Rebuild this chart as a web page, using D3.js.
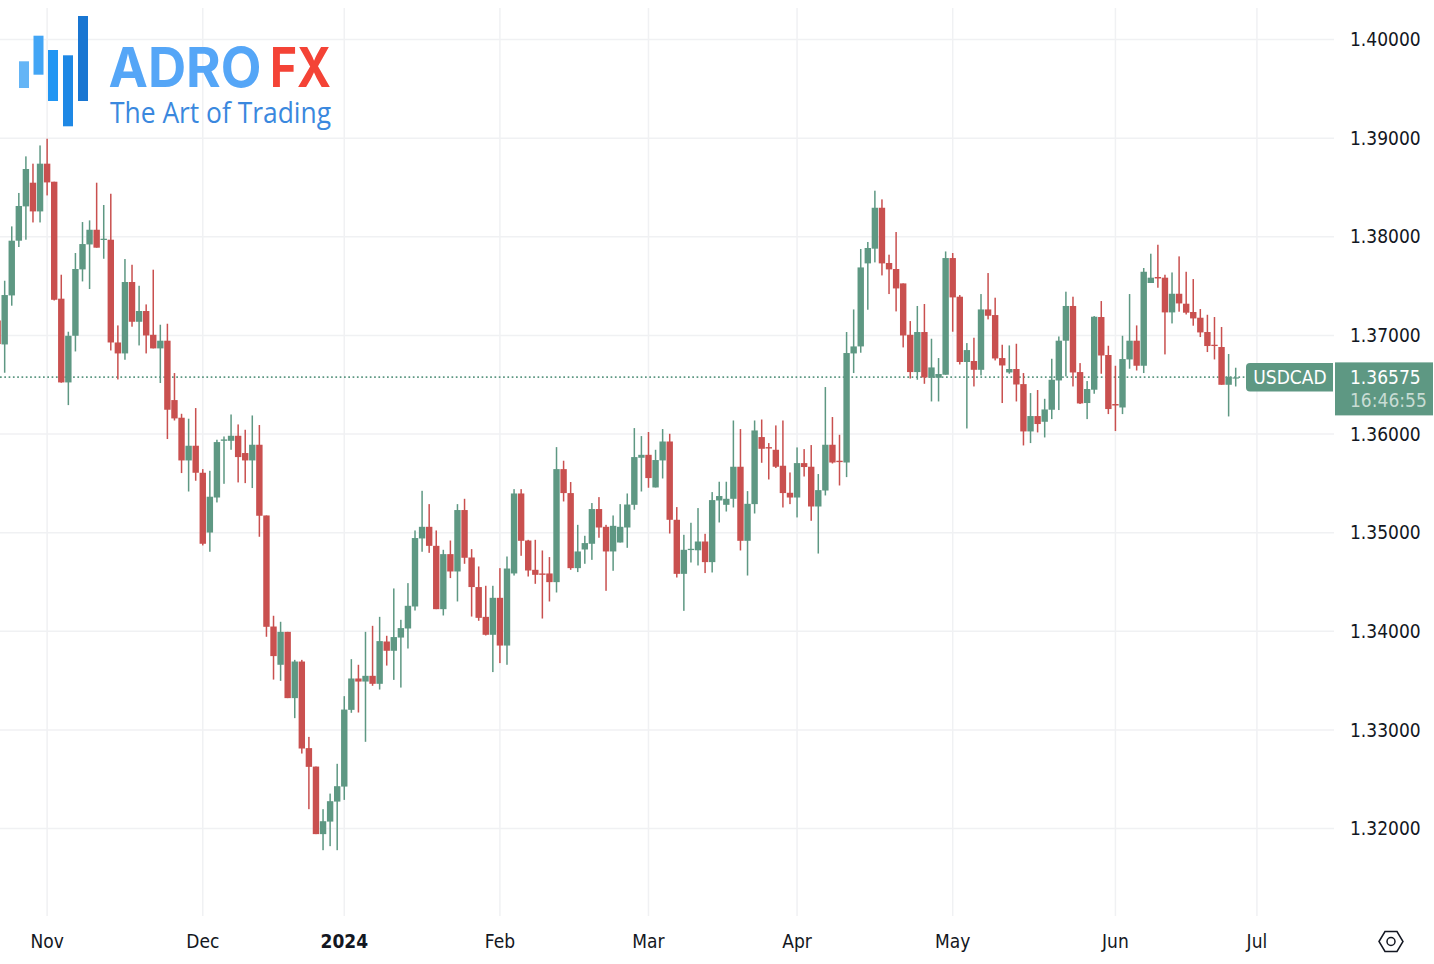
<!DOCTYPE html>
<html>
<head>
<meta charset="utf-8">
<script src="https://cdn.jsdelivr.net/npm/d3@7/dist/d3.min.js"></script>
<style>
  html, body { margin: 0; padding: 0; background: #fff; overflow: hidden; }
  svg { display: block; }
  text { font-family: "DejaVu Sans Condensed", "DejaVu Sans", sans-serif; }
  .axis path, .axis line { display: none; }
  .axis text { fill: #131722; font-size: 19px; }
</style>
</head>
<body>
<script>
// USDCAD daily candles
const opens = [
  1.37152,1.36909,1.37406,1.37961,1.38309,1.38549,1.38258,1.38742,1.38559,1.37373,
  1.36524,1.36997,1.37670,1.37923,1.38072,1.37968,1.37971,1.36929,1.36818,1.37542,
  1.37139,1.37248,1.37007,1.36869,1.36947,1.36345,1.36166,1.35733,1.35882,1.35608,
  1.35002,1.35357,1.35932,1.35932,1.35983,1.35808,1.35733,1.35892,1.35175,1.34049,
  1.33661,1.33995,1.33323,1.33694,1.32816,1.32629,1.31944,1.32071,1.32274,1.32426,
  1.33204,1.33522,1.33491,1.33549,1.33468,1.33897,1.33803,1.33937,1.34029,1.34252,
  1.34942,1.35060,1.34867,1.34225,1.34783,1.34607,1.35230,1.34749,1.34449,1.34147,
  1.33965,1.34340,1.33856,1.34587,1.35398,1.34921,1.34624,1.34587,1.34587,1.34499,
  1.35645,1.35402,1.34641,1.34830,1.34888,1.35240,1.35060,1.34810,1.34901,1.35053,
  1.35283,1.35760,1.35790,1.35459,1.35733,1.35925,1.35131,1.34583,1.34824,1.34822,
  1.34911,1.34702,1.35327,1.35283,1.35344,1.35669,1.34918,1.35290,1.35970,1.35868,
  1.35841,1.35679,1.35405,1.35357,1.35706,1.35669,1.35266,1.35428,1.35892,1.35730,
  1.35712,1.36818,1.36889,1.37731,1.37880,1.38295,1.37735,1.37674,1.37528,1.37007,
  1.36629,1.37035,1.36571,1.36571,1.36602,1.37785,1.37393,1.36731,1.36741,1.36652,
  1.37264,1.37207,1.36771,1.36625,1.36660,1.36507,1.36027,1.36183,1.36125,1.36247,
  1.36544,1.36947,1.37299,1.36629,1.36315,1.36450,1.37187,1.36802,1.36305,1.36270,
  1.36757,1.36947,1.36693,1.37532,1.37593,1.37586,1.37234,1.37423,1.37322,1.37238,
  1.37180,1.37035,1.36906,1.36883,1.36500,1.36565
];
const closes = [
  1.36913,1.37410,1.37961,1.38313,1.38688,1.38258,1.38742,1.38552,1.37362,1.36524,
  1.36997,1.37674,1.37927,1.38072,1.37890,1.37981,1.36929,1.36818,1.37542,1.37139,
  1.37248,1.37000,1.36869,1.36947,1.36247,1.36159,1.35733,1.35882,1.35608,1.34888,
  1.35365,1.35919,1.35946,1.35983,1.35767,1.35733,1.35892,1.35172,1.34046,1.33749,
  1.33995,1.33323,1.33694,1.32812,1.32626,1.31944,1.32075,1.32278,1.32430,1.33207,
  1.33522,1.33491,1.33549,1.33468,1.33901,1.33803,1.33942,1.34033,1.34259,1.34946,
  1.35060,1.34867,1.34225,1.34783,1.34607,1.35230,1.34746,1.34449,1.34137,1.33965,
  1.34340,1.33856,1.34637,1.35398,1.34918,1.34617,1.34573,1.34573,1.34499,1.35645,
  1.35402,1.34641,1.34810,1.34895,1.35240,1.35053,1.34810,1.35070,1.35060,1.35286,
  1.35767,1.35790,1.35554,1.35737,1.35925,1.35131,1.34583,1.34827,1.34837,1.34911,
  1.34702,1.35331,1.35372,1.35344,1.35669,1.34918,1.35293,1.36037,1.35851,1.35854,
  1.35669,1.35402,1.35357,1.35706,1.35666,1.35266,1.35432,1.35892,1.35712,1.35716,
  1.36822,1.36889,1.37690,1.37887,1.38295,1.37731,1.37670,1.37477,1.37000,1.36629,
  1.37035,1.36574,1.36676,1.36609,1.37785,1.37386,1.36731,1.36852,1.36652,1.37264,
  1.37200,1.36767,1.36696,1.36660,1.36503,1.36027,1.36183,1.36102,1.36250,1.36551,
  1.36947,1.37299,1.36625,1.36311,1.36457,1.37190,1.36797,1.36254,1.36290,1.36761,
  1.36947,1.36693,1.37646,1.37586,1.37578,1.37234,1.37423,1.37325,1.37231,1.37173,
  1.37031,1.36893,1.36893,1.36500,1.36581,1.36575
];
const highs = [
  1.37210,1.37555,1.38106,1.38445,1.38816,1.38742,1.38927,1.38995,1.38559,1.37616,
  1.37038,1.37836,1.38150,1.38167,1.38549,1.38323,1.38437,1.37102,1.37775,1.37717,
  1.37504,1.37315,1.37667,1.37109,1.37119,1.36619,1.36206,1.36156,1.36264,1.35645,
  1.35628,1.35943,1.35976,1.36199,1.36098,1.36044,1.36189,1.36092,1.35175,1.34158,
  1.34097,1.33995,1.33711,1.33711,1.32930,1.32629,1.32197,1.32355,1.32657,1.33343,
  1.33718,1.33661,1.33995,1.34056,1.34147,1.33955,1.34435,1.34117,1.34489,1.35023,
  1.35425,1.35290,1.35023,1.34827,1.34921,1.35290,1.35344,1.34834,1.34658,1.34462,
  1.34462,1.34641,1.34759,1.35442,1.35442,1.34928,1.34928,1.34820,1.34753,1.35868,
  1.35730,1.35514,1.35080,1.34969,1.35301,1.35361,1.35080,1.35175,1.35290,1.35398,
  1.36061,1.35980,1.36021,1.35841,1.36051,1.36003,1.35260,1.34979,1.35101,1.35250,
  1.34989,1.35412,1.35517,1.35517,1.36138,1.36051,1.35422,1.36138,1.36148,1.35909,
  1.36088,1.36138,1.35611,1.35865,1.35848,1.35889,1.35595,1.36477,1.36173,1.35993,
  1.37035,1.37264,1.37877,1.37948,1.38468,1.38380,1.37819,1.38049,1.37528,1.37146,
  1.37299,1.37319,1.36967,1.36771,1.37852,1.37836,1.37410,1.36923,1.36977,1.37420,
  1.37633,1.37383,1.36906,1.36899,1.36916,1.36619,1.36416,1.36447,1.36358,1.36764,
  1.36990,1.37444,1.37393,1.36720,1.36538,1.37197,1.37349,1.36896,1.36693,1.36997,
  1.37420,1.37102,1.37684,1.37829,1.37920,1.37616,1.37639,1.37802,1.37646,1.37572,
  1.37268,1.37210,1.37187,1.37086,1.36812,1.36673
];
const lows = [
  1.36906,1.36622,1.37302,1.37897,1.37971,1.38146,1.38146,1.38420,1.37355,1.36521,
  1.36294,1.36838,1.37548,1.37471,1.37890,1.37778,1.36848,1.36554,1.36754,1.37089,
  1.36899,1.36818,1.36869,1.36518,1.35950,1.36138,1.35605,1.35418,1.35527,1.34871,
  1.34807,1.35307,1.35496,1.35841,1.35510,1.35503,1.35453,1.34959,1.33945,1.33511,
  1.33498,1.33323,1.33120,1.32761,1.32197,1.31944,1.31781,1.31822,1.31781,1.32291,
  1.33174,1.33177,1.32880,1.33448,1.33410,1.33653,1.33508,1.33430,1.33826,1.34211,
  1.34807,1.34796,1.34225,1.34161,1.34540,1.34303,1.34685,1.34150,1.34107,1.33958,
  1.33587,1.33678,1.33661,1.34566,1.34766,1.34556,1.34482,1.34130,1.34303,1.34394,
  1.35317,1.34624,1.34601,1.34685,1.34725,1.34949,1.34411,1.34614,1.34901,1.34847,
  1.35233,1.35418,1.35456,1.35459,1.35550,1.34992,1.34546,1.34208,1.34698,1.34668,
  1.34591,1.34597,1.35104,1.35215,1.35256,1.34820,1.34566,1.35195,1.35709,1.35540,
  1.35656,1.35256,1.35290,1.35155,1.35570,1.35121,1.34789,1.35378,1.35702,1.35479,
  1.35564,1.36619,1.36825,1.37261,1.37741,1.37609,1.37420,1.37244,1.36879,1.36564,
  1.36551,1.36510,1.36331,1.36331,1.36602,1.37038,1.36706,1.36057,1.36483,1.36595,
  1.37163,1.36747,1.36315,1.36612,1.36331,1.35885,1.35909,1.36017,1.35966,1.36152,
  1.36244,1.36585,1.36483,1.36305,1.36152,1.36409,1.36612,1.36203,1.36031,1.36203,
  1.36663,1.36645,1.36619,1.37532,1.37484,1.36808,1.37122,1.37241,1.37213,1.37099,
  1.36984,1.36832,1.36757,1.36500,1.36179,1.36483
];

// category axis: index of the candle each label sits on
const monthIdx = [7, 29, 49, 71, 92, 113, 135, 158, 178];
const monthLabels = ["Nov", "Dec", "2024", "Feb", "Mar", "Apr", "May", "Jun", "Jul"];
const priceTicks = [1.32, 1.33, 1.34, 1.35, 1.36, 1.37, 1.38, 1.39, 1.40];

const symbol = "USDCAD";
const lastPrice = 1.36575;
const countdown = "16:46:55";

const width = 1434, height = 964;
const upColor = "#5e9883", downColor = "#c9504f", gridColor = "#f0f1f3";

const svg = d3.select("body").append("svg")
    .attr("width", width)
    .attr("height", height);

const x = d3.scaleLinear().domain([0, 175]).range([-2.4, 1235.7]);
const y = d3.scaleLinear().domain([1.32, 1.40]).range([828.6, 39.6]);

// grid
svg.append("g").selectAll("line")
    .data(priceTicks)
    .enter()
    .append("line")
    .attr("x1", 0)
    .attr("x2", 1334)
    .attr("y1", d => y(d))
    .attr("y2", d => y(d))
    .attr("stroke", gridColor)
    .attr("stroke-width", 1.5);

svg.append("g").selectAll("line")
    .data(monthIdx)
    .enter()
    .append("line")
    .attr("x1", d => x(d))
    .attr("x2", d => x(d))
    .attr("y1", 8)
    .attr("y2", 916)
    .attr("stroke", gridColor)
    .attr("stroke-width", 1.5);

// last price line
svg.append("line")
    .attr("x1", 0)
    .attr("x2", 1246)
    .attr("y1", Math.round(y(lastPrice)) + 0.2)
    .attr("y2", Math.round(y(lastPrice)) + 0.2)
    .attr("stroke", upColor)
    .attr("stroke-width", 1.7)
    .attr("stroke-dasharray", "1.7 2.6");

// candles
const candles = svg.append("g").selectAll("g")
    .data(d3.range(opens.length))
    .enter()
    .append("g")
    .attr("fill", i => closes[i] >= opens[i] ? upColor : downColor);

candles.append("rect")
    .attr("x", i => x(i) - 0.75)
    .attr("width", 1.5)
    .attr("y", i => y(highs[i]))
    .attr("height", i => y(lows[i]) - y(highs[i]));

candles.append("rect")
    .attr("x", i => x(i) - 3.2)
    .attr("width", 6.4)
    .attr("y", i => y(Math.max(opens[i], closes[i])))
    .attr("height", i => Math.max(1.2, Math.abs(y(opens[i]) - y(closes[i]))));

// price axis
const yAxis = d3.axisRight(y)
    .tickValues(priceTicks)
    .tickFormat(d3.format(".5f"))
    .tickSize(0)
    .tickPadding(0);

svg.append("g")
    .attr("class", "axis")
    .attr("transform", "translate(1350,0)")
    .call(yAxis);

// time axis
const xAxis = d3.axisBottom(x)
    .tickValues(monthIdx)
    .tickFormat((d, i) => monthLabels[i])
    .tickSize(0)
    .tickPadding(0);

const timeAxis = svg.append("g")
    .attr("class", "axis")
    .attr("transform", "translate(-0.5,934)")
    .call(xAxis);

timeAxis.selectAll("text")
    .style("font-weight", (d, i) => monthLabels[i] === "2024" ? "bold" : "normal");

// symbol and price labels
const labelY = y(lastPrice);
svg.append("rect")
    .attr("x", 1246).attr("y", labelY - 14.5)
    .attr("width", 92).attr("height", 28.5)
    .attr("rx", 4)
    .attr("fill", upColor);
svg.append("rect")
    .attr("x", 1333).attr("y", labelY - 16)
    .attr("width", 2).attr("height", 54)
    .attr("fill", "#fff");
svg.append("rect")
    .attr("x", 1335).attr("y", labelY - 15)
    .attr("width", 98).attr("height", 53)
    .attr("fill", upColor);
svg.append("text")
    .attr("x", 1290).attr("y", labelY + 7)
    .attr("text-anchor", "middle")
    .attr("fill", "#fff")
    .style("font-size", "19px")
    .text(symbol);
svg.append("text")
    .attr("x", 1350).attr("y", labelY + 7)
    .attr("fill", "#fff")
    .style("font-size", "19px")
    .text(d3.format(".5f")(lastPrice));
svg.append("text")
    .attr("x", 1350).attr("y", labelY + 30)
    .attr("fill", "#c8dcd4")
    .style("font-size", "19px")
    .text(countdown);

// settings icon
const icon = svg.append("g")
    .attr("transform", "translate(1391,941.5)")
    .attr("fill", "none")
    .attr("stroke", "#131722")
    .attr("stroke-width", 1.5);
icon.append("path").attr("d", "M-12,0L-6,-10L6,-10L12,0L6,10L-6,10Z");
icon.append("circle").attr("r", 4);

// logo
const logo = svg.append("g");
[[19, 61.3, 10, 26.7, "#64b5f6"], [33.5, 35.7, 10, 39, "#42a5f5"], [48, 50, 10, 51, "#2196f3"],
 [63, 55.3, 10, 71, "#1e88e5"], [78, 16, 10, 85, "#1976d2"]].forEach(b => {
    logo.append("rect")
        .attr("x", b[0]).attr("y", b[1])
        .attr("width", b[2]).attr("height", b[3])
        .attr("fill", b[4]);
});
logo.append("text")
    .attr("x", 108.5).attr("y", 87)
    .attr("textLength", 153)
    .attr("lengthAdjust", "spacingAndGlyphs")
    .attr("fill", "#55a6f7")
    .style("font-family", "Inter")
    .style("font-weight", 700)
    .style("font-size", "55px")
    .text("ADRO");
logo.append("text")
    .attr("x", 270).attr("y", 87)
    .attr("textLength", 61)
    .attr("lengthAdjust", "spacingAndGlyphs")
    .attr("fill", "#f44336")
    .style("font-family", "Inter")
    .style("font-weight", 700)
    .style("font-size", "55px")
    .text("FX");
logo.append("text")
    .attr("x", 110).attr("y", 122.5)
    .attr("textLength", 221)
    .attr("lengthAdjust", "spacingAndGlyphs")
    .attr("fill", "#3a88de")
    .style("font-family", "Open Sans")
    .style("font-weight", 400)
    .style("font-size", "29px")
    .text("The Art of Trading");
</script>
</body>
</html>
